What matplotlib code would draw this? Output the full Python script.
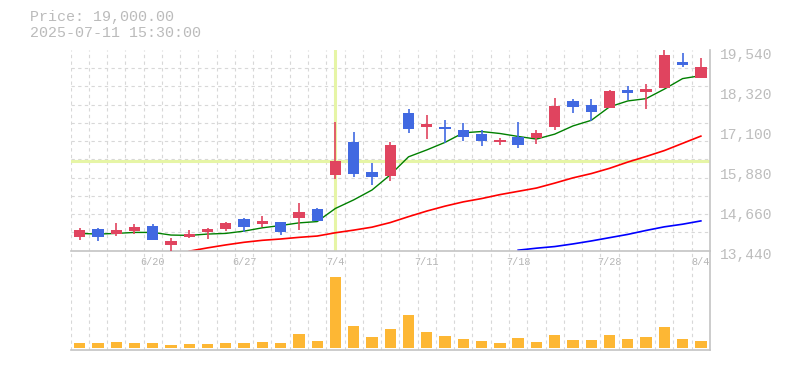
import numpy as np
import matplotlib
matplotlib.use("Agg")
import matplotlib.pyplot as plt
from matplotlib.transforms import ScaledTranslation

DATES = ["6/16", "6/17", "6/18", "6/19", "6/20", "6/23", "6/24", "6/25", "6/26", "6/27",
         "6/30", "7/1", "7/2", "7/3", "7/4", "7/7", "7/8", "7/9", "7/10", "7/11",
         "7/14", "7/15", "7/16", "7/17", "7/18", "7/22", "7/23", "7/24", "7/25", "7/28",
         "7/29", "7/30", "7/31", "8/1", "8/4"]
OPEN = [13860, 14100, 13940, 14030, 14190, 13610, 13860, 14010, 14100, 14400,
        14250, 14310, 14440, 14700, 15740, 16740, 15830, 15720, 17620, 17210,
        17200, 17110, 16990, 16740, 16890, 16870, 17210, 17990, 17870, 17780,
        18320, 18270, 18380, 19180, 18700]
HIGH = [14130, 14110, 14280, 14250, 14250, 13830, 14060, 14130, 14310, 14430,
        14490, 14310, 14890, 14730, 17350, 17050, 16100, 16740, 17750, 17560,
        17410, 17330, 17110, 16860, 17350, 17110, 18080, 18050, 18050, 18320,
        18440, 18510, 19550, 19450, 19300]
LOW = [13770, 13740, 13890, 13950, 13760, 13430, 13830, 13780, 14040, 14010,
       14160, 13920, 14070, 14340, 15620, 15690, 15440, 15560, 17020, 16840,
       16720, 16770, 16630, 16660, 16570, 16690, 17110, 17620, 17390, 17780,
       18020, 17750, 18380, 19020, 18700]
CLOSE = [14070, 13860, 14060, 14150, 13770, 13730, 13940, 14100, 14280, 14160,
         14340, 14010, 14610, 14350, 16160, 15780, 15680, 16650, 17150, 17290,
         17150, 16900, 16780, 16800, 16660, 17020, 17840, 17820, 17660, 18290,
         18240, 18350, 19390, 19090, 19020]
VOLUME = [10000, 10000, 12000, 10000, 10000, 6000, 8000, 8000, 10000, 10000,
          12000, 10000, 28000, 14000, 142000, 44000, 22000, 38000, 66000, 32000,
          24000, 18000, 14000, 10000, 20000, 12000, 26000, 16000, 16000, 26000,
          18000, 22000, 42000, 18000, 14000]
MA_SHORT = [13960, 13940, 13960, 13990, 13990, 13910, 13900, 13940, 13960, 14030,
            14130, 14200, 14280, 14320, 14720, 14980, 15280, 15740, 16290, 16500,
            16730, 17020, 17060, 17000, 16910, 16830, 16980, 17230, 17400, 17810,
            17990, 18060, 18350, 18670, 18760]
MA_MID = [None] * 6 + [13420, 13520, 13610, 13690, 13750, 13790, 13840, 13880, 13980, 14060,
                       14150, 14290, 14470, 14640, 14790, 14920, 15020, 15140, 15240, 15340,
                       15490, 15650, 15780, 15940, 16130, 16300, 16480, 16700, 16920]
MA_LONG = [None] * 24 + [13450, 13510, 13560, 13640, 13730, 13830, 13930, 14050, 14160, 14240, 14340]
PRICE_TICKS = [13440, 14660, 15880, 17100, 18320, 19540]
LABEL_IDX = [4, 9, 14, 19, 24, 29, 34]
CROSS_IDX, CROSS_PRICE = 14, 16170

UP, DOWN, VOLC = "#e0445f", "#4169e1", "#fdb734"
GRID, AXC = "#d8d8d8", "#c4c4c4"
MONO = ["Liberation Mono", "DejaVu Sans Mono"]
W, H = 785, 370

fig = plt.figure(figsize=(W / 100, H / 100), dpi=100)
ax = fig.add_axes([70.5 / W, (H - 250.5) / H, 639.5 / W, 200.5 / H])
axv = fig.add_axes([70.5 / W, (H - 350) / H, 639.5 / W, 99.5 / H], sharex=ax)
axv.set_facecolor("none")

x = np.arange(len(DATES))
o, h, l, c = map(np.array, (OPEN, HIGH, LOW, CLOSE))
cols = [UP if cc >= oo else DOWN for oo, cc in zip(o, c)]

ax.axvline(CROSS_IDX, ymin=0.005, ymax=0.995, color="#e6f5a6", lw=2.2, zorder=1)
ax.axhline(CROSS_PRICE, color="#e6f5a6", lw=2.2, zorder=1)

ma = lambda v: np.array([np.nan if a is None else a for a in v], dtype=float)
ax.plot(x, ma(MA_SHORT), color="#008000", lw=1.0, zorder=2)
ax.plot(x, ma(MA_MID), color="#ff0000", lw=1.2, zorder=2)
ax.plot(x, ma(MA_LONG), color="#0000ff", lw=1.2, zorder=2)

ax.vlines(x, l, h, colors=cols, lw=1.2, zorder=3)
ax.bar(x, np.maximum(np.abs(c - o), 20), bottom=np.minimum(o, c), width=0.62, color=cols, zorder=4)
axv.bar(x, VOLUME, width=0.62, color=VOLC, zorder=3)

ax.set_xlim(-0.5, len(DATES) - 0.5)
ax.set_ylim(PRICE_TICKS[0], PRICE_TICKS[-1])
axv.set_ylim(-4000, 195000)

for a in (ax, axv):
    a.set_xticks(np.arange(-0.5, len(DATES), 1), minor=True)
    a.grid(which="minor", axis="x", color=GRID, lw=0.8, ls=(0, (3, 3)), zorder=0)
    for s in ("top", "left"):
        a.spines[s].set_visible(False)
    for s in ("right", "bottom"):
        a.spines[s].set_color(AXC); a.spines[s].set_linewidth(1.2)
    a.tick_params(which="both", length=0)
    a.set_axisbelow(True)

ax.set_yticks(np.linspace(PRICE_TICKS[0], PRICE_TICKS[-1], 12), minor=True)
ax.grid(which="minor", axis="y", color=GRID, lw=0.8, ls=(0, (3, 3)), zorder=0)
ax.yaxis.tick_right()
ax.set_yticks(PRICE_TICKS)
ax.set_yticklabels([f"{v:,}" for v in PRICE_TICKS], fontsize=10.5, color="#bdbdbd", family=MONO)
ax.tick_params(axis="y", pad=7.5)
off = ScaledTranslation(0, -3 / 100, fig.dpi_scale_trans)
for t in ax.get_yticklabels():
    t.set_transform(t.get_transform() + off)

ax.set_xticks(LABEL_IDX)
ax.set_xticklabels([DATES[i] for i in LABEL_IDX], fontsize=7.3, color="#b4b4b4", family=MONO)
ax.tick_params(axis="x", pad=4.5)
axv.set_yticks([])
axv.tick_params(labelbottom=False)

fig.text(30 / W, 1 - 17 / H, "Price: 19,000.00", va="center", fontsize=10.8, color="#bbbbbb", family=MONO)
fig.text(30 / W, 1 - 33 / H, "2025-07-11 15:30:00", va="center", fontsize=10.8, color="#bbbbbb", family=MONO)

fig.savefig("out.png", dpi=100)
